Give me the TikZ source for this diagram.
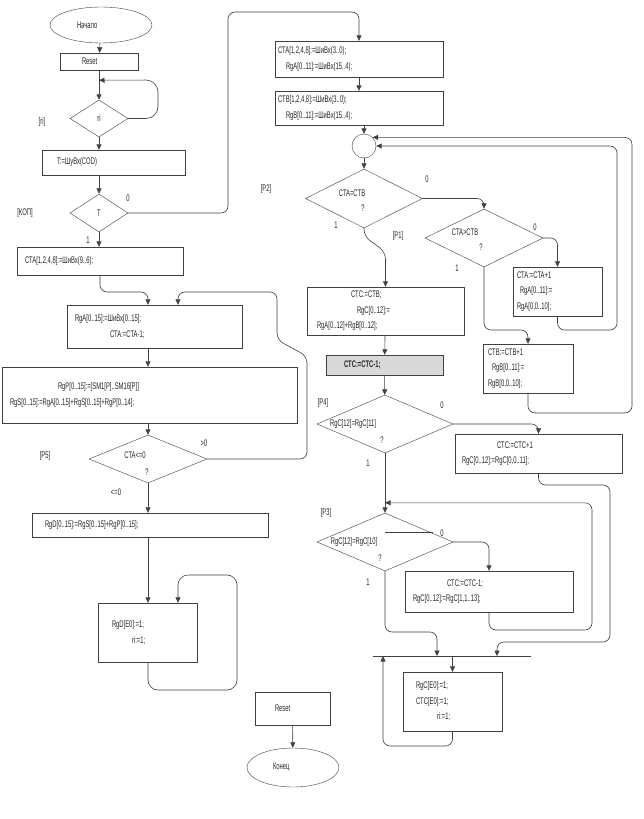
\documentclass[tikz,border=0pt]{standalone}
\usepackage{fontspec}
\setmainfont{Liberation Sans}[FakeStretch=0.61]
\usetikzlibrary{arrows.meta,shapes.geometric,calc}

\begin{document}
\begin{tikzpicture}[x=1pt, y=-1pt,
  every node/.style={font=\fontsize{9.6}{15.5}\selectfont, text=black!85},
  blk/.style={draw=black!75, rectangle, align=left, inner ysep=0pt},
  dia/.style={draw=black!75, diamond, inner sep=0pt},
  oval/.style={draw=black!75, ellipse, inner sep=0pt, align=left},
  txt/.style={inner sep=0pt},
  ln/.style={draw=black!75, line width=0.6pt},
  arr/.style={ln, -{Triangle[length=5.5pt, width=5pt]}},
  ret/.style={arr, rounded corners=7pt}]
\fill[white] (0,0) rectangle (643,819);
\useasboundingbox (0,0) rectangle (643,819);

% left column
\coordinate (axisL) at (148,0);
\node[oval, minimum width=102pt, minimum height=36pt, text width=48pt] (start) at (101,25) {Начало};
\node[blk, minimum height=17pt, text width=34pt, inner xsep=22pt] (reset) at (99,61.5) {Reset};
\node[dia, minimum width=58pt, minimum height=37pt] (ri) at (99,118.5) {ri};
\node[blk, minimum height=25pt, text width=113pt, inner xsep=15pt] (tin) at (113.5,162.5) {T:=ШуВх(COD)};
\node[dia, minimum width=58pt, minimum height=38pt] (kop) at (99,213) {T};
\node[blk, minimum height=28pt, text width=150pt, inner xsep=8pt] (ctaload) at (100,261) {CTA[1,2,4,8]:=ШиВх(9..6);};
\node[blk, minimum height=43pt, text width=159pt, inner xsep=8pt] (rga) at (154.5,326.5)
  {RgA[0..15]:=ШиВх[0..15];\\\hspace*{35pt}CTA:=CTA-1;};
\node[blk, minimum height=56pt, text width=279pt, inner xsep=8pt] (rgp) at (149.5,395)
  {\hspace*{48pt}RgP[0..15]:=[SM1[P]..SM16[P]]\\RgS[0..15]:=RgA[0..15]+RgS[0..15]+RgP[0..14];};
\node[dia, minimum width=118pt, minimum height=48pt] (p5) at (148,459) {};
\node[txt] (p5q) at (135,455) {CTA<=0};
\node[txt] (p5m) at (147,472) {?};
\node[blk, minimum height=24pt, text width=210pt, inner xsep=13pt] (rgd) at (150,525) {RgD[0..15]:=RgS[0..15]+RgP[0..15];};
\node[blk, minimum height=59pt, text width=71pt, inner xsep=14pt] (rgde) at (147.5,632.5)
  {RgD[E0]:=1;\\\hspace*{20pt}ri:=1;};
\node[blk, minimum height=33pt, text width=35pt, inner xsep=20pt] (resetend) at (292.5,708.5) {Reset};
\node[oval, minimum width=92pt, minimum height=39pt, text width=40pt] (fin) at (293,767.5) {Конец};

% right column
\node[blk, minimum height=36pt, text width=162pt, inner xsep=3pt] (ldA) at (359,59)
  {CTA[1,2,4,8]:=ШиВх(3..0);\\\hspace*{8pt}RgA[0..11]:=ШиВх(15..4);};
\node[blk, minimum height=34pt, text width=162pt, inner xsep=3pt] (ldB) at (359,108)
  {CTB[1,2,4,8]:=ШиВх(3..0);\\\hspace*{8pt}RgB[0..11]:=ШиВх(15..4);};
\node[draw=black!75, circle, minimum size=24pt, inner sep=0pt] (join) at (364,146) {};
\node[dia, minimum width=117pt, minimum height=59pt] (p2) at (364,198.5) {};
\node[txt] (p2q) at (352,193) {CTA=CTB};
\node[txt] (p2m) at (363,208) {?};
\node[dia, minimum width=118pt, minimum height=58pt] (cmp) at (484,238) {};
\node[txt] (cmpq) at (465,232) {CTA>CTB};
\node[txt] (cmpm) at (481,247) {?};
\node[blk, minimum height=49pt, text width=81pt, inner xsep=4pt] (incA) at (557.5,291.5)
  {CTA:=CTA+1\\\hspace*{3pt}RgA[0..11]:=\\RgA[0,0..10];};
\node[blk, minimum height=49pt, text width=80pt, inner xsep=5pt] (incB) at (528,368.5)
  {CTB:=CTB+1\\\hspace*{4pt}RgB[0..11]:=\\RgB[0,0..10];};
\node[blk, minimum height=48pt, text width=137pt, inner xsep=10pt] (ctc) at (385.5,311)
  {\hspace*{34pt}CTC:=CTB;\\\hspace*{40pt}RgC[0..12]:=\\RgA[0..12]+RgB[0..12];};
\node[blk, fill=black!15, minimum height=20pt, text width=81pt, inner xsep=18pt] (dec) at (384.5,365)
  {\bfseries CTC:=CTC-1;};
\node[dia, minimum width=136pt, minimum height=58pt] (p4) at (385,424) {};
\node[txt] (p4q) at (353,424) {RgC[12]=RgC[11]};
\node[txt] (p4m) at (382,440) {?};
\node[blk, minimum height=39pt, text width=153pt, inner xsep=7pt] (incC) at (538.5,453.5)
  {\hspace*{35pt}CTC:=CTC+1\\RgC[0..12]:=RgC[0,0..11];};
\node[dia, minimum width=136pt, minimum height=58pt] (p3) at (385,542) {};
\node[txt] (p3q) at (354,542) {RgC[12]=RgC[10]};
\node[txt] (p3m) at (380,558) {?};
\node[blk, minimum height=41pt, text width=152pt, inner xsep=8pt] (decC) at (489,591.5)
  {\hspace*{34pt}CTC:=CTC-1;\\RgC[0..12]:=RgC[1,1..13];};
\coordinate (busL) at (373,656);
\coordinate (busR) at (531,656);
\node[blk, minimum height=59pt, text width=73pt, inner xsep=13pt] (rgce) at (452.5,701.5)
  {RgC[E0]:=1;\\CTC[E0]:=1;\\\hspace*{21pt}ri:=1;};

% labels
\node[txt] (lri) at (42,122) {[ri]};
\node[txt] (lkop) at (25,213) {[КОП]};
\node[txt] (l0kop) at (128,198) {0};
\node[txt] (l1kop) at (88,240) {1};
\node[txt] (lp5) at (45,456) {[P5]};
\node[txt] (lgt) at (204,443) {>0};
\node[txt] (lle) at (116,492) {<=0};
\node[txt] (lp2) at (266,189) {[P2]};
\node[txt] (l0p2) at (427,179) {0};
\node[txt] (l1p2) at (336,225) {1};
\node[txt] (lp1) at (398,236) {[P1]};
\node[txt] (l0cmp) at (535,227) {0};
\node[txt] (l1cmp) at (457,268) {1};
\node[txt] (lp4) at (323,403) {[P4]};
\node[txt] (l0p4) at (442,405) {0};
\node[txt] (l1p4) at (368,463) {1};
\node[txt] (lp3) at (326,513) {[P3]};
\node[txt] (l0p3) at (442,533) {0};
\node[txt] (l1p3) at (368,582) {1};

% connectors, left
\coordinate (riin) at ($(reset.south)+(0,10)$);
\draw[arr] (start) -- (reset);
\draw[arr] (reset) -- (ri);
\draw[ret, rounded corners=12pt] (ri.east) -| (158,80) -- (riin);
\draw[arr] (ri) -- (tin.north -| ri);
\draw[arr] (tin.south -| kop) -- (kop);
\draw[arr] (kop) -- (ctaload.north -| kop);
\draw[ret] (kop.east) -| (228,12) -| (ldA.north);
\draw[ret] (ctaload.south) |- (148,292) -- (rga.north -| axisL);
\draw[arr] (rga.south -| axisL) -- (rgp.north -| axisL);
\draw[arr] (rgp.south -| p5) -- (p5);
\draw[arr] (p5) -- (rgd.north -| p5);
\draw[ret] (p5.east) -- (307,459) -- (307,356) -- (277,340) -- (277,292) -- (178,292) -- (rga.north -| 178,0);
\draw[arr] (rgd.south -| p5) -- (rgde.north -| p5);
\draw[ret, rounded corners=10pt] (rgde.south -| p5) |- (237,690) |- (178,575) -- (rgde.north -| 178,0);
\draw[arr] (resetend) -- (fin);

% connectors, right
\coordinate (p3in) at ($(p3.north)+(0,-10)$);
\draw[arr] (ldA) -- (ldB);
\draw[arr] (ldB.south -| join) -- (join);
\draw[arr] (join) -- (p2);
\draw[ret] (p2.east) -| (cmp.north);
\draw[ret] (cmp.east) -| (incA.north);
\draw[ret] (cmp.south) |- (528,330) -- (incB.north);
\draw[ret] (incA.south) |- (617,330) |- (join.east);
\draw[ret] (incB.south) |- (632,413) |- (join.north east);
\draw[ret] (p2.south) -- ++(0,8) -- (ctc.north |- 0,252) -- (ctc.north);
\draw[arr] (ctc) -- (dec);
\draw[arr] (dec) -- (p4);
\draw[ret] (p4.east) -| (incC.north);
\draw[arr] (p4) -- (p3);
\draw[ln] ([yshift=10pt]p3.center) -- ++(48,0);
\draw[ret] (p3.east) -| (decC.north);
\draw[ret] (decC.south) |- (592,630) |- (p3in);
\draw[ret] (p3.south) |- (437,632) -- (busL -| 437,0);
\draw[ret] (incC.south) |- (610,485) |- (497,642) -- (busL -| 497,0);
\draw[ln] (busL) -- (busR);
\draw[arr] (busL -| rgce) -- (rgce);
\draw[ret] (rgce.south) |- (383,746) -- (busL -| 383,0);
\end{tikzpicture}
\end{document}
